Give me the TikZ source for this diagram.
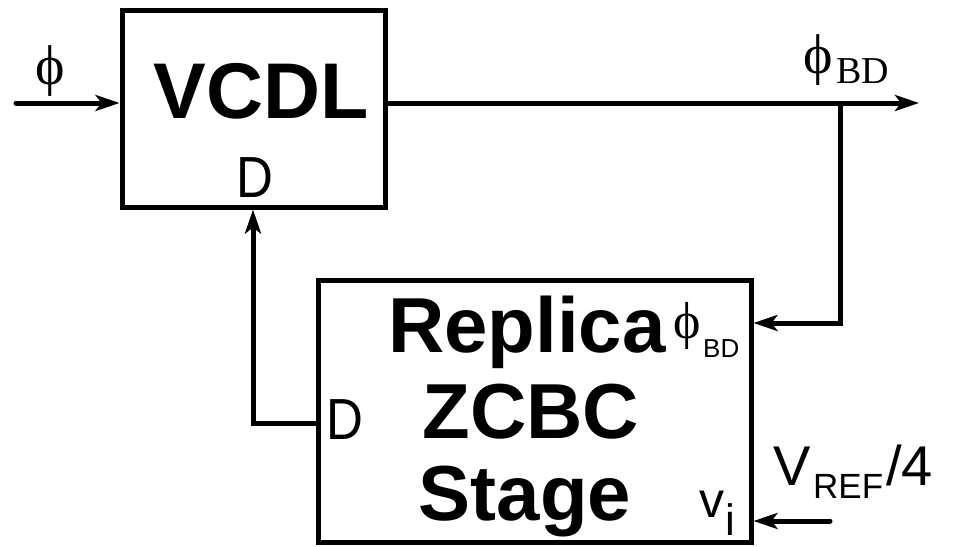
\documentclass[tikz,border=0pt]{standalone}
\usepackage{fontspec}
\setmainfont{Liberation Sans}
\newfontfamily\serf{Liberation Serif}
\usetikzlibrary{arrows.meta}
\begin{document}
\begin{tikzpicture}[x=1pt,y=-1pt,
  blk/.style={draw, line width=5pt, inner sep=0pt},
  wire/.style={line width=5pt},
  arr/.style={wire, -{Stealth[length=24pt,width=16pt,inset=6pt]}},
  big/.style={font=\fontsize{79}{79}\selectfont\bfseries, inner sep=0pt, anchor=base},
  pin/.style={inner sep=0pt, anchor=base west},
  lab/.style={inner sep=0pt, anchor=base west}
]
\useasboundingbox (0,0) rectangle (957,546);
% boxes
\node[blk, minimum width=263pt, minimum height=197pt] (vcdl) at (253.5,108.5) {};
\node[blk, minimum width=433pt, minimum height=262pt] (rep) at (534.5,411) {};
% texts in VCDL
\node[big] (t1) at (261,118) {VCDL};
\node[pin] (d1) at (236,197) {\scalebox{0.88}[1]{\fontsize{58}{58}\selectfont D}};
% texts in replica
\node[big, font=\fontsize{78}{78}\selectfont\bfseries] (t2) at (527,352) {Replica};
\node[big, font=\fontsize{78}{78}\selectfont\bfseries] (t3) at (531,438) {ZCBC};
\node[big, font=\fontsize{78}{78}\selectfont\bfseries] (t4) at (525,520) {Stage};
\node[pin] (d2) at (326,439) {\scalebox{0.88}[1]{\fontsize{58}{58}\selectfont D}};
\node[lab] (p2) at (673,338) {\fontsize{52}{52}\serf ϕ};
\node[lab] (p2s) at (703,357) {\fontsize{26}{26}\selectfont BD};
\node[lab] (vi) at (699,517) {\fontsize{50}{50}\selectfont v};
\node[lab] (vis) at (725,535) {\fontsize{44}{44}\selectfont i};
% external labels
\node[lab] (p0) at (35,84) {\fontsize{56}{56}\serf ϕ};
\node[lab] (p1) at (803,73) {\fontsize{56}{56}\serf ϕ};
\node[lab] (p1s) at (836,83) {\fontsize{38}{38}\serf BD};
\node[lab] (vref) at (773,485) {\fontsize{56}{56}\selectfont V};
\node[lab] (vrefs) at (813,498) {\fontsize{35}{35}\selectfont REF};
\node[lab] (vref4) at (886,485) {\fontsize{56}{56}\selectfont /4};
% connectors
\coordinate (in) at (16,103);
\coordinate (out) at (919,103);
\coordinate (tap) at (840,103);
\coordinate (tapd) at (840,323);
\coordinate (fb) at (253,423);
\coordinate (vr) at (830,521);
\draw[arr, line cap=round] (in) -- (in -| vcdl.west);
\draw[arr] (vcdl.east |- out) -- (out);
\draw[arr, line join=miter] (tap) -- (tapd) -- (tapd -| rep.east);
\draw[arr, line join=miter] (fb -| rep.west) -- (fb) -- (fb |- vcdl.south);
\draw[arr, line cap=round] (vr) -- (vr -| rep.east);
\end{tikzpicture}
\end{document}
